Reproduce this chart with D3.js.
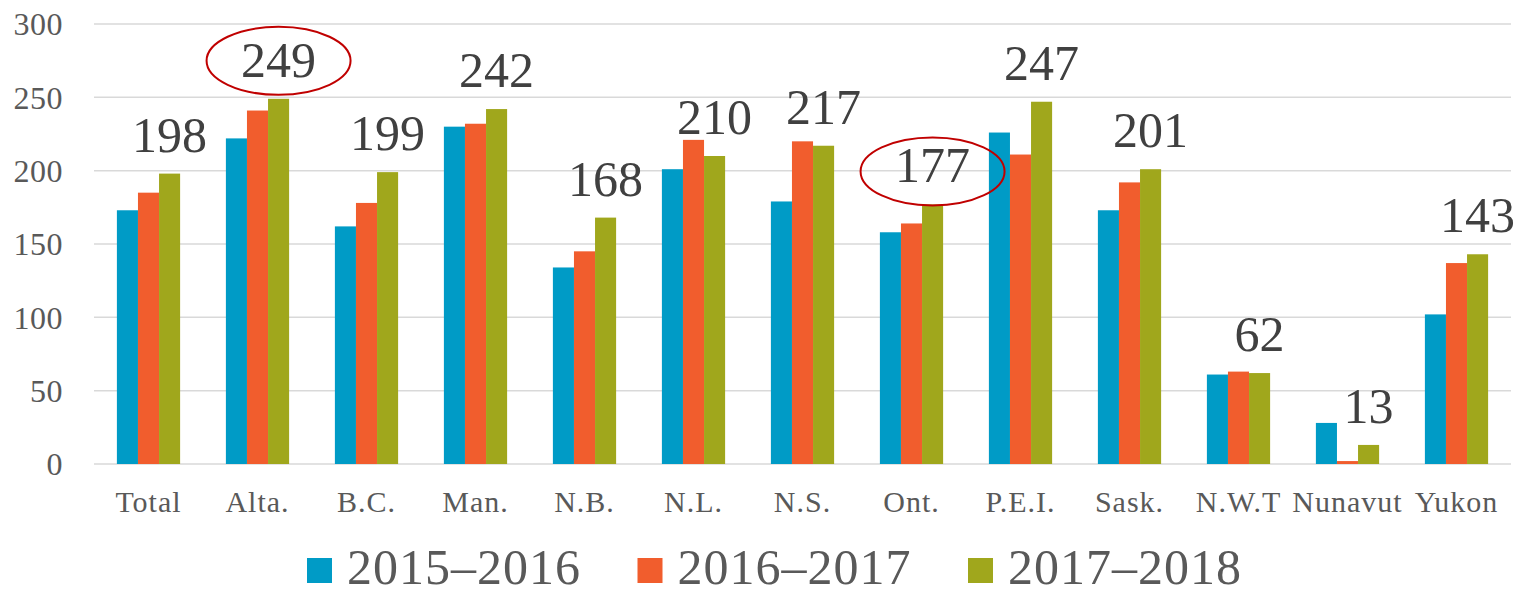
<!DOCTYPE html>
<html>
<head>
<meta charset="utf-8">
<script src="https://cdn.jsdelivr.net/npm/d3@7"></script>
<style>
  body { margin: 0; background: #fff; }
  text { font-family: "Liberation Serif", "Times New Roman", serif; }
</style>
</head>
<body>
<div id="chart"></div>
<script>
// data
const categories = ["Total", "Alta.", "B.C.", "Man.", "N.B.", "N.L.", "N.S.", "Ont.", "P.E.I.", "Sask.", "N.W.T", "Nunavut", "Yukon"];
const seriesNames = ["2015\u20132016", "2016\u20132017", "2017\u20132018"];
const values2015 = [173, 222, 162, 230, 134, 201, 179, 158, 226, 173, 61, 28, 102];
const values2016 = [185, 241, 178, 232, 145, 221, 220, 164, 211, 192, 63, 2, 137];
const values2017 = [198, 249, 199, 242, 168, 210, 217, 177, 247, 201, 62, 13, 143];
const yTicks = [0, 50, 100, 150, 200, 250, 300];
const circled = ["Alta.", "Ont."];

const colors = ["#009BC6", "#F15D2D", "#A0A71C"];

let width = 1518, height = 589;
let margin = { top: 24, right: 7, bottom: 125, left: 94 };

let svg = d3.select("#chart")
  .append("svg")
  .attr("width", width)
  .attr("height", height);

let x = d3.scaleBand()
  .domain(categories)
  .range([margin.left, width - margin.right])
  .paddingInner(0.42)
  .paddingOuter(0.21);

let x1 = d3.scaleBand()
  .domain(seriesNames)
  .range([0, x.bandwidth()]);

let y = d3.scaleLinear()
  .domain([0, 300])
  .range([height - margin.bottom, margin.top]);

let color = d3.scaleOrdinal().domain(seriesNames).range(colors);

// gridlines
svg.append("g")
  .selectAll("line")
  .data(yTicks)
  .enter()
  .append("line")
  .attr("x1", margin.left)
  .attr("x2", width - margin.right)
  .attr("y1", d => y(d))
  .attr("y2", d => y(d))
  .attr("stroke", "#d9d9d9")
  .attr("stroke-width", 1.5);

// y tick labels
svg.append("g")
  .selectAll("text")
  .data(yTicks)
  .enter()
  .append("text")
  .attr("x", 63)
  .attr("y", d => y(d))
  .attr("dy", "0.35em")
  .attr("text-anchor", "end")
  .attr("fill", "#595959")
  .style("font-size", "32px")
  .style("letter-spacing", "0.5px")
  .text(d => d);

// bars
let rows = categories.map(function (c, i) {
  return { cat: c, vals: [values2015[i], values2016[i], values2017[i]] };
});

let groups = svg.append("g")
  .selectAll("g")
  .data(rows)
  .enter()
  .append("g")
  .attr("transform", d => "translate(" + x(d.cat) + ",0)");

groups.selectAll("rect")
  .data(d => d.vals.map((v, j) => ({ key: seriesNames[j], value: v })))
  .enter()
  .append("rect")
  .attr("x", d => x1(d.key))
  .attr("y", d => y(d.value))
  .attr("width", x1.bandwidth())
  .attr("height", d => y(0) - y(d.value))
  .attr("fill", d => color(d.key));

// value labels on the last series
let lastX = d => x(d.cat) + x1(seriesNames[2]) + x1.bandwidth() / 2;

svg.append("g")
  .selectAll("text")
  .data(rows)
  .enter()
  .append("text")
  .attr("x", lastX)
  .attr("y", d => y(d.vals[2]) - 22)
  .attr("text-anchor", "middle")
  .attr("fill", "#404040")
  .style("font-size", "50px")
  .text(d => d.vals[2]);

// red circles round two labels
svg.append("g")
  .selectAll("ellipse")
  .data(rows.filter(d => circled.includes(d.cat)))
  .enter()
  .append("ellipse")
  .attr("cx", lastX)
  .attr("cy", d => y(d.vals[2]) - 22 - (d.cat === "Alta." ? 16 : 11))
  .attr("rx", 72)
  .attr("ry", 34)
  .attr("fill", "none")
  .attr("stroke", "#C00000")
  .attr("stroke-width", 2);

// category labels
svg.append("g")
  .selectAll("text")
  .data(categories)
  .enter()
  .append("text")
  .attr("x", d => x(d) + x.bandwidth() / 2)
  .attr("y", 512)
  .attr("text-anchor", "middle")
  .attr("fill", "#595959")
  .style("font-size", "30px")
  .style("letter-spacing", "1px")
  .text(d => d);

// legend
let legend = svg.append("g")
  .selectAll("g")
  .data(seriesNames)
  .enter()
  .append("g")
  .attr("transform", (d, i) => "translate(" + (307 + i * 330.5) + ",0)");

legend.append("rect")
  .attr("x", 0)
  .attr("y", 558)
  .attr("width", 25)
  .attr("height", 25)
  .attr("fill", d => color(d));

legend.append("text")
  .attr("x", 40)
  .attr("y", 584)
  .attr("fill", "#595959")
  .style("font-size", "50px")
  .style("letter-spacing", "1px")
  .text(d => d);
</script>
</body>
</html>
